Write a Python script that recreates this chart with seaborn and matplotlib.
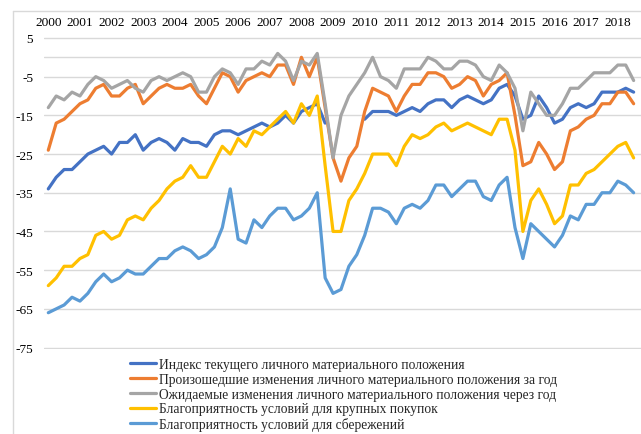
import numpy as np
import pandas as pd
import matplotlib
matplotlib.use("Agg")
import matplotlib.pyplot as plt
from matplotlib.lines import Line2D
import seaborn as sns

# Quarterly consumer sentiment indices, 2000 Q1 - 2018 Q3
years = list(range(2000, 2019))

series_names = [
    "Индекс текущего личного материального положения",
    "Произошедшие изменения личного материального положения за год",
    "Ожидаемые изменения личного материального положения через год",
    "Благоприятность условий для крупных покупок",
    "Благоприятность условий для сбережений",
]

nan = np.nan
current_position = [
    -34, -31, -29, -29, -27, -25, -24, -23, -25, -22, -22, -20, -24, -22, -21,
    -22, -24, -21, -22, -22, -23, -20, -19, -19, -20, -19, -18, -17, -18, -17, -15,
    -17, -14, -13, -12, -17,
    nan, nan, nan, nan,
    -16, -14, -14, -14, -15, -14,
    -13, -14, -12, -11, -11, -13, -11, -10, -11, -12, -11, -8, -7, -10,
    -16, -15, -10, -13, -17, -16, -13, -12, -13, -12, -9, -9, -9, -8, -9,
]
past_change = [
    -24, -17, -16, -14, -12, -11, -8, -7, -10, -10, -8, -7, -12, -10, -8,
    -7, -8, -8, -7, -10, -12, -8, -4, -5, -9, -6, -5, -4, -5, -2, -2,
    -7, 0, -5, 0, -13, -26, -32, -26, -23,
    -14, -8, -9, -10, -14, -10, -7, -7, -4, -4, -5, -8, -7, -5, -6, -10, -7, -6, -4, -15,
    -28, -27, -22, -25, -29, -27, -19, -18, -16, -15, -12, -12, -9, -9, -12,
]
expected_change = [
    -13, -10, -11, -9, -10, -7, -5, -6, -8, -7, -6, -8, -9, -6, -5,
    -6, -5, -4, -5, -9, -9, -5, -3, -4, -7, -3, -3, -1, -2, 1, -1, -6, -1, -2, 1,
    -12, -26, -15, -10, -7, -4, 0, -5, -6, -8,
    -3, -3, -3, 0, -1, -3, -3, -1, -1, -2, -5, -6, -2, -4, -8,
    -19, -9, -12, -15, -15, -12, -8, -8, -6, -4, -4, -4, -2, -2, -6,
]
big_purchases = [
    -59, -57, -54, -54, -52, -51, -46, -45, -47, -46, -42, -41, -42, -39, -37,
    -34, -32, -31, -28, -31, -31, -27, -23, -25, -21, -23, -19, -20, -18, -16, -14, -17, -12, -15, -10,
    -28, -45, -45, -37, -34, -30, -25, -25, -25, -28,
    -23, -20, -21, -20, -18, -17, -19, -18, -17, -18, -19, -20, -16, -16, -24,
    -45, -37, -34, -38, -43, -41, -33, -33, -30, -29, -27, -25, -23, -22, -26,
]
savings = [
    -66, -65, -64, -62, -63, -61, -58, -56, -58, -57, -55, -56, -56, -54, -52,
    -52, -50, -49, -50, -52, -51, -49, -44, -34, -47, -48, -42, -44, -41, -39, -39, -42, -41, -39, -35,
    -57, -61, -60, -54, -51, -46, -39, -39, -40, -43,
    -39, -38, -39, -37, -33, -33, -36, -34, -32, -32, -36, -37, -33, -31, -44,
    -52, -43, -45, -47, -49, -46, -41, -42, -38, -38, -35, -35, -32, -33, -35,
]

y_ticks = [5, -5, -15, -25, -35, -45, -55, -65, -75]
colors = ["#4472C4", "#ED7D31", "#A5A5A5", "#FFC000", "#5B9BD5"]

# Long-form table; a gap in a series starts a new line segment
frames = []
for name, vals in zip(series_names, [current_position, past_change, expected_change,
                                     big_purchases, savings]):
    v = np.asarray(vals, dtype=float)
    frames.append(pd.DataFrame({
        "quarter": np.arange(len(v)),
        "value": v,
        "series": name,
        "segment": np.cumsum(np.isnan(v)),
    }))
df = pd.concat(frames, ignore_index=True).dropna()

sns.set_theme(style="white")
plt.rcParams["font.family"] = ["Liberation Serif", "DejaVu Serif"]
plt.rcParams["axes.unicode_minus"] = False

W, H = 641, 435
fig = plt.figure(figsize=(W / 100, H / 100), dpi=100)

# pixel geometry of the plotting area
x0_px, dx_px = 48.3, 7.91          # first quarter position, px per quarter
y0_px, dy_px = 58.3, 3.87          # zero line position, px per unit
xlim = (-0.5, (W - x0_px) / dx_px)
ylim = (-75.5, 5.5)
left = x0_px + xlim[0] * dx_px
top = y0_px - ylim[1] * dy_px
bottom = y0_px - ylim[0] * dy_px
ax = fig.add_axes([left / W, 1 - bottom / H, (W - left) / W, (bottom - top) / H])

grid_color = "#D9D9D9"
ax.set_xlim(*xlim)
ax.set_ylim(*ylim)
ax.grid(False)
for t in y_ticks:
    ax.axhline(t, color=grid_color, lw=1.0, zorder=0)
ax.axhline(0, color=grid_color, lw=1.0, zorder=0)

sns.lineplot(
    data=df, x="quarter", y="value", hue="series", units="segment",
    estimator=None, sort=False, hue_order=series_names,
    palette=dict(zip(series_names, colors)), linewidth=2.3, ax=ax,
)

quarters = np.arange(len(current_position))
ax.set_xticks(quarters[::4][:len(years)], labels=[str(y) for y in years])
ax.xaxis.tick_top()
ax.tick_params(axis="x", length=0, pad=5.5, labelsize=9.6, colors="black")
ax.set_yticks(y_ticks, labels=[str(t) for t in y_ticks])
ax.tick_params(axis="y", length=0, pad=8, labelsize=9.6, colors="black")
ax.set_xlabel("")
ax.set_ylabel("")
for s in ax.spines.values():
    s.set_visible(False)

handles, labels = ax.get_legend_handles_labels()
ax.get_legend().remove()
for h in handles:
    h.set_linewidth(2.3)
fig.legend(
    handles, labels, loc="upper left", bbox_to_anchor=(130 / W, 1 - 359 / H),
    frameon=False, borderpad=0, borderaxespad=0, handlelength=1.95,
    handletextpad=0.2, labelspacing=0.13, fontsize=9.75,
)

# outer chart frame
fig.add_artist(Line2D([13 / W, 13 / W], [0, 1 - 12 / H], color=grid_color, lw=1.0,
                      transform=fig.transFigure))
fig.add_artist(Line2D([13 / W, 1], [1 - 12 / H, 1 - 12 / H], color=grid_color, lw=1.0,
                      transform=fig.transFigure))

fig.savefig("out.png", dpi=100)
